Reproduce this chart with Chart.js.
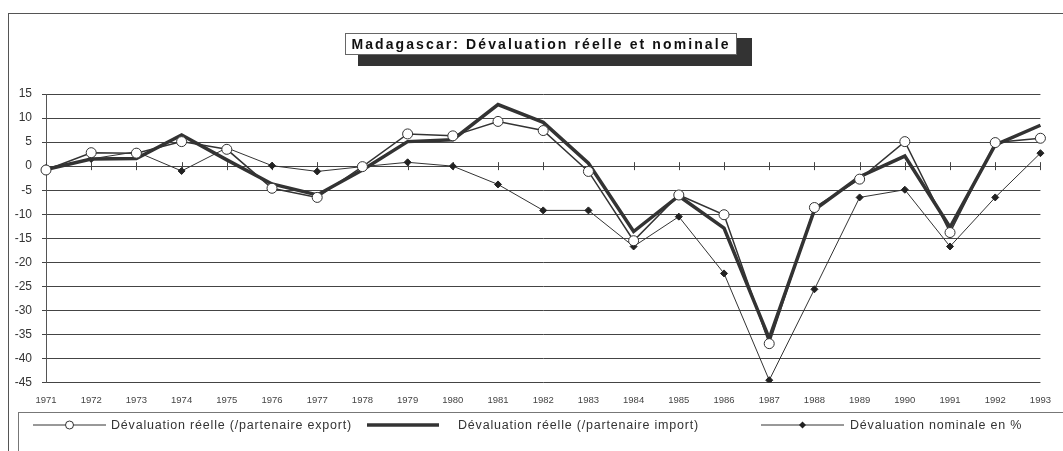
<!DOCTYPE html>
<html>
<head>
<meta charset="utf-8">
<script src="https://cdn.jsdelivr.net/npm/chart.js@4.4.1/dist/chart.umd.min.js"></script>
<style>
  body { margin: 0; background: #fff; font-family: "Liberation Sans", Arial, sans-serif; }
  #wrap { position: relative; width: 1063px; height: 451px; overflow: hidden; }
  #chart1 { position: absolute; left: 0; top: 0; }
  #frame { position: absolute; left: 8px; top: 13px; width: 1100px; height: 500px; border: 1px solid #555; }
  #shadow { position: absolute; left: 358px; top: 38px; width: 394px; height: 28px; background: #333; }
  #title { position: absolute; left: 345px; top: 33px; width: 390px; height: 20px; background: #fff;
           border: 1px solid #666; font-weight: bold; font-size: 14px; letter-spacing: 2.1px;
           line-height: 20px; text-align: center; color: #111; white-space: nowrap; }
  #legend { position: absolute; left: 18px; top: 412px; width: 1100px; height: 100px; border: 1px solid #777; }
  .item { position: absolute; top: 2px; height: 20px; display: flex; align-items: center;
          font-size: 12.5px; letter-spacing: 0.8px; color: #333; white-space: nowrap; }
</style>
</head>
<body>
<div id="wrap">
  <canvas id="chart1" width="1063" height="451"></canvas>
  <div id="frame"></div>
  <div id="shadow"></div>
  <div id="title">Madagascar: Dévaluation réelle et nominale</div>
  <div id="legend"></div>
</div>
<script>
// données
const years = ['1971', '1972', '1973', '1974', '1975', '1976', '1977', '1978', '1979', '1980', '1981', '1982',
    '1983', '1984', '1985', '1986', '1987', '1988', '1989', '1990', '1991', '1992', '1993'];
const reelleExport = [-0.8, 2.8, 2.7, 5.1, 3.5, -4.6, -6.5, -0.1, 6.7, 6.3, 9.3, 7.4,
    -1.1, -15.5, -6.0, -10.1, -36.9, -8.6, -2.7, 5.1, -13.8, 4.9, 5.8];
const reelleImport = [-0.7, 1.5, 1.6, 6.5, 1.3, -3.7, -6.0, -0.8, 5.1, 5.5, 12.8, 9.1,
    0.6, -13.6, -6.2, -12.9, -35.8, -9.1, -2.2, 2.1, -12.7, 4.4, 8.5];
const nominale = [-0.4, 1.5, 3.0, -1.0, 3.8, 0.1, -1.1, -0.1, 0.8, 0.0, -3.8, -9.2,
    -9.2, -16.7, -10.5, -22.3, -44.5, -25.6, -6.5, -4.9, -16.7, -6.5, 2.7];
const yTicks = [15, 10, 5, 0, -5, -10, -15, -20, -25, -30, -35, -40, -45];
const seriesNames = ['Dévaluation réelle (/partenaire export)', 'Dévaluation réelle (/partenaire import)',
    'Dévaluation nominale en %'];

const ink = '#333';

// petits traits verticaux sur la ligne du zéro
const zeroTicks = {
    id: 'zeroTicks',
    beforeDatasetsDraw(chart) {
        const ctx = chart.ctx;
        const xs = chart.scales.x;
        const y0 = chart.scales.y.getPixelForValue(0);
        ctx.save();
        ctx.strokeStyle = '#444';
        ctx.lineWidth = 1;
        for (let i = 0; i < xs.ticks.length; i++) {
            const px = Math.round(xs.getPixelForTick(i)) + 0.5;
            ctx.beginPath();
            ctx.moveTo(px, y0 - 4);
            ctx.lineTo(px, y0 + 4);
            ctx.stroke();
        }
        ctx.restore();
    }
};

const chart1 = document.getElementById('chart1');
new Chart(chart1, {
    type: 'line',
    data: {
        labels: years,
        datasets: [{
                label: seriesNames[0],
                data: reelleExport,
                borderColor: ink,
                borderWidth: 1.5,
                pointRadius: 5,
                pointBackgroundColor: '#fff',
                pointBorderColor: ink,
                pointBorderWidth: 1,
                tension: 0
            },
            {
                label: seriesNames[1],
                data: reelleImport,
                borderColor: ink,
                borderWidth: 3.5,
                pointRadius: 0,
                tension: 0
            },
            {
                label: seriesNames[2],
                data: nominale,
                borderColor: ink,
                borderWidth: 1,
                pointStyle: 'rectRot',
                pointRadius: 3.5,
                pointBackgroundColor: '#222',
                pointBorderColor: '#222',
                tension: 0
            }
        ]
    },
    plugins: [zeroTicks],
    options: {
        responsive: false,
        animation: false,
        layout: {
            padding: { top: 94, right: 14, bottom: 33, left: 0 }
        },
        plugins: {
            legend: { display: false },
            tooltip: { enabled: false }
        },
        scales: {
            x: {
                offset: false,
                grid: { drawOnChartArea: false, drawTicks: false },
                border: { display: false },
                ticks: {
                    autoSkip: false,
                    maxRotation: 0,
                    padding: 12,
                    color: '#444',
                    font: { family: 'Liberation Sans', size: 9.5 }
                }
            },
            y: {
                min: -45,
                max: 15,
                afterBuildTicks: (scale) => {
                    scale.ticks = yTicks.map(v => ({ value: v }));
                },
                grid: { color: '#444', lineWidth: 1, tickLength: 4 },
                border: { color: '#555' },
                ticks: {
                    padding: 10,
                    color: '#333',
                    font: { family: 'Liberation Sans', size: 12 }
                },
                afterFit: (scale) => { scale.width = 46; }
            }
        }
    }
});

// légende en HTML (trait + marqueur)
const legendPos = [
    { left: 14, w: 73, text: 92 },
    { left: 348, w: 72, text: 439 },
    { left: 742, w: 83, text: 831 }
];
const legendBox = document.getElementById('legend');
seriesNames.forEach((name, i) => {
    const p = legendPos[i];
    const w = p.w;
    let marker = '';
    if (i === 0) {
        marker = `<circle cx="${w / 2}" cy="8" r="4" fill="#fff" stroke="${ink}" stroke-width="1"/>`;
    } else if (i === 2) {
        marker = `<rect x="${w / 2 - 2.5}" y="5.5" width="5" height="5" fill="#222" transform="rotate(45 ${w / 2} 8)"/>`;
    }
    const sw = i === 1 ? 3.5 : 1;
    const div = document.createElement('div');
    div.className = 'item';
    div.style.left = p.left + 'px';
    div.innerHTML = `<svg width="${w}" height="16"><line x1="0" y1="8" x2="${w}" y2="8" stroke="${ink}" stroke-width="${sw}"/>${marker}</svg>`;
    const span = document.createElement('span');
    span.textContent = name;
    span.style.position = 'absolute';
    span.style.left = (p.text - p.left) + 'px';
    div.appendChild(span);
    legendBox.appendChild(div);
});
</script>
</body>
</html>
